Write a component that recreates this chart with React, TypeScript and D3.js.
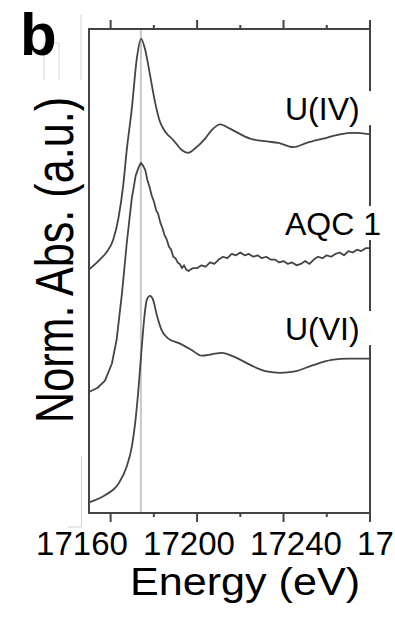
import React from 'react';
import * as d3 from 'd3';

// U L3-edge XANES (energy in eV, normalized absorbance)
const uivEnergy = [17150, 17155, 17158, 17161.2, 17163.6, 17165.9, 17167.4, 17169.8, 17172.1, 17174.1, 17175.9, 17178.2, 17180.5, 17182.8, 17185.2, 17189, 17192.9, 17195.8, 17199, 17203.7, 17206.8, 17210.6, 17215.2, 17224.5, 17232.2, 17237.6, 17244.5, 17250.7, 17258.4, 17266.1, 17272.3, 17280];
const uivAbs = [0, 0.07, 0.12, 0.21, 0.36, 0.6, 0.83, 1.13, 1.48, 1.62, 1.55, 1.37, 1.18, 1.04, 0.97, 0.91, 0.84, 0.82, 0.85, 0.92, 0.98, 1.02, 0.99, 0.92, 0.9, 0.89, 0.86, 0.89, 0.92, 0.95, 0.96, 0.95];

const aqcEnergy = [17150, 17154, 17157.4, 17160.6, 17162.8, 17165.3, 17167.5, 17169.8, 17171.6, 17173, 17174, 17175, 17176, 17177, 17178, 17179, 17180, 17181, 17182, 17183, 17184, 17185, 17186, 17187, 17188, 17189, 17190, 17191, 17192, 17193, 17194, 17195, 17196, 17197, 17198, 17200, 17202, 17204, 17206, 17208, 17210, 17212, 17214, 17216, 17218, 17220, 17222, 17224, 17226, 17228, 17230, 17232, 17234, 17236, 17238, 17240, 17242, 17244, 17246, 17248, 17250, 17252, 17254, 17256, 17258, 17260, 17262, 17264, 17266, 17268, 17270, 17272, 17274, 17276, 17278, 17280];
const aqcAbs = [0, 0.03, 0.08, 0.2, 0.37, 0.7, 1.05, 1.36, 1.52, 1.58, 1.61, 1.59, 1.56, 1.49, 1.44, 1.38, 1.34, 1.28, 1.25, 1.19, 1.15, 1.1, 1.07, 1.02, 1.0, 0.95, 0.94, 0.91, 0.9, 0.87, 0.89, 0.86, 0.85, 0.86, 0.87, 0.87, 0.89, 0.88, 0.91, 0.9, 0.93, 0.95, 0.94, 0.97, 0.96, 0.98, 0.96, 0.97, 0.95, 0.96, 0.94, 0.95, 0.93, 0.93, 0.91, 0.92, 0.9, 0.91, 0.89, 0.9, 0.92, 0.9, 0.93, 0.95, 0.94, 0.96, 0.95, 0.97, 0.98, 0.96, 0.99, 0.98, 1.0, 0.99, 1.01, 1.01];

const uviEnergy = [17150, 17157.4, 17163.6, 17167.4, 17169.8, 17171.3, 17172.8, 17174.4, 17175.6, 17176.7, 17178.2, 17179.7, 17181.3, 17183.6, 17186.7, 17191.3, 17197.5, 17202.1, 17206.8, 17211.4, 17217.5, 17225.3, 17232.2, 17238.4, 17245.3, 17253, 17262.3, 17270, 17280];
const uviAbs = [0, 0.05, 0.13, 0.25, 0.39, 0.55, 0.78, 1.09, 1.3, 1.42, 1.45, 1.42, 1.32, 1.21, 1.15, 1.12, 1.07, 1.03, 1.04, 1.05, 1.02, 0.96, 0.92, 0.91, 0.92, 0.96, 1.0, 1.01, 1.01];

const seriesNames = ['U(IV)', 'AQC 1', 'U(VI)'];
const seriesOffsets = [1.71, 0.85, 0.075];
const labelLevels = [2.76, 1.953, 1.215];

const majorTicks = [17160, 17200, 17240, 17280];
const minorTicks = [17180, 17220, 17260];
const tickLabels = ['17160', '17200', '17240', '17280'];
const refLineEnergy = 17174;

const W = 395;
const H = 620;
const FONT = '"Liberation Sans", Arial, Helvetica, sans-serif';

export default function App() {
  const x = d3.scaleLinear().domain([17150, 17280]).range([89, 370]);
  const y = d3.scaleLinear().domain([0, 3.4]).range([513, 29]);
  // the tick numbers were pasted in at their own spacing in the original figure
  const xLab = d3.scaleLinear().domain([17160, 17280]).range([82, 403]);

  const series = [
    { e: uivEnergy, a: uivAbs, curve: d3.curveMonotoneX },
    { e: aqcEnergy, a: aqcAbs, curve: d3.curveLinear },
    { e: uviEnergy, a: uviAbs, curve: d3.curveMonotoneX },
  ];

  const paths = series.map((s, i) => {
    const line = d3
      .line<number>()
      .x((_, j) => x(s.e[j]))
      .y((v) => y(v + seriesOffsets[i]))
      .curve(s.curve);
    return line(s.a) || '';
  });

  const [x0, x1] = x.range();
  const [yb, yt] = y.range();

  return (
    <svg width={W} height={H} style={{ position: 'absolute', left: 0, top: 0, background: '#fff' }}>
      {/* faint leftovers from the panel paste-up */}
      <g stroke="#d4d4d4" strokeWidth={1} fill="none">
        <path d="M81,15V80" />
        <path d="M44,80V43H59V80" />
        <path d="M81.5,456V527H68" />
      </g>

      <text x={20} y={55} fontFamily={FONT} fontWeight="bold" fontSize={60} fill="#000">b</text>

      {/* reference line */}
      <line x1={x(refLineEnergy)} x2={x(refLineEnergy)} y1={yt} y2={yb} stroke="#c8c8c8" strokeWidth={2} />

      {/* frame */}
      <rect x={x0} y={yt} width={x1 - x0} height={yb - yt} fill="none" stroke="#444" strokeWidth={2} />

      {/* ticks, outward top and bottom */}
      <g stroke="#444" strokeWidth={2}>
        {majorTicks.map((t) => (
          <g key={'M' + t}>
            <line x1={x(t)} x2={x(t)} y1={yt} y2={yt - 9} />
            <line x1={x(t)} x2={x(t)} y1={yb} y2={yb + 9} />
          </g>
        ))}
        {minorTicks.map((t) => (
          <g key={'m' + t}>
            <line x1={x(t)} x2={x(t)} y1={yt} y2={yt - 4} />
            <line x1={x(t)} x2={x(t)} y1={yb} y2={yb + 4} />
          </g>
        ))}
      </g>

      {/* curve labels sit on white boxes that cut the right frame */}
      {seriesNames.map((n, i) => (
        <g key={n}>
          <rect x={283} y={y(labelLevels[i]) - 29} width={90} height={34} fill="#fff" />
          <text x={285} y={y(labelLevels[i])} fontFamily={FONT} fontSize={32} fill="#000">{n}</text>
        </g>
      ))}

      {paths.map((d, i) => (
        <path key={i} d={d} fill="none" stroke="#444" strokeWidth={1.8} strokeLinejoin="round" />
      ))}

      {tickLabels.map((t, i) => (
        <text key={t} x={xLab(majorTicks[i])} y={555} textAnchor="middle" fontFamily={FONT} fontSize={33} fill="#000">{t}</text>
      ))}

      <text x={130} y={595} fontFamily={FONT} fontSize={38} textLength={230} lengthAdjust="spacingAndGlyphs" fill="#000">Energy (eV)</text>

      <text
        transform="translate(73,260) rotate(-90)"
        x={0}
        y={0}
        textAnchor="middle"
        fontFamily={FONT}
        fontSize={53}
        textLength={326}
        lengthAdjust="spacingAndGlyphs"
        fill="#000"
      >
        Norm. Abs. (a.u.)
      </text>
    </svg>
  );
}
